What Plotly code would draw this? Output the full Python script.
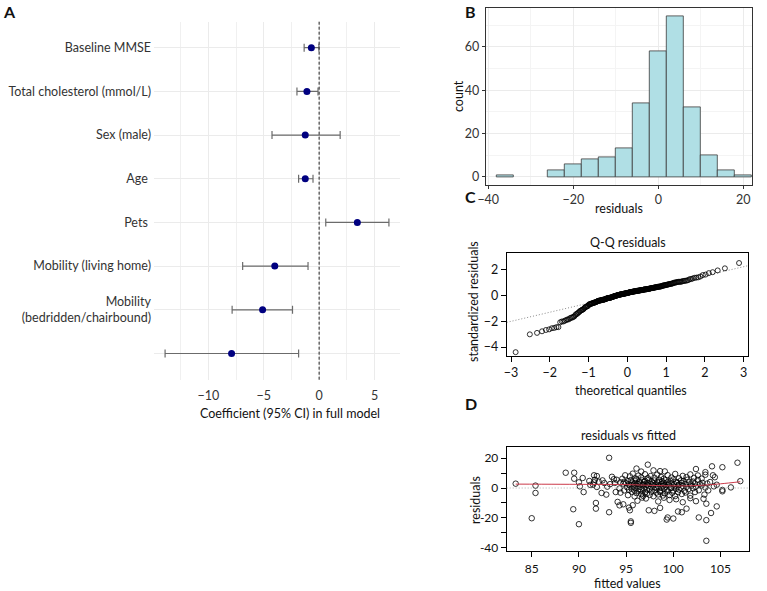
import numpy as np
import plotly.graph_objects as go
from statistics import NormalDist

# ---------------- Panel A data ----------------
terms = ["Baseline MMSE", "Total cholesterol (mmol/L)", "Sex (male)", "Age\u00a0", "Pets\u00a0",
         "Mobility (living home)", "Mobility<br>(bedridden/chairbound)", ""]
coef = [-0.7, -1.1, -1.25, -1.25, 3.45, -4.0, -5.1, -7.9]
ci_low = [-1.35, -2.0, -4.25, -1.85, 0.6, -6.9, -7.85, -13.9]
ci_high = [-0.02, -0.1, 1.9, -0.55, 6.3, -1.0, -2.4, -1.85]

# ---------------- Residuals / fitted (panels B, C, D) ----------------
fitted_values = [
    103.5,
    90.0, 95.5, 95.5,
    85.0, 99.4, 99.3, 100.0, 102.7, 103.5,
    89.4, 93.2, 95.4, 97.4, 98.0, 100.5, 100.9, 104.0,
    91.8, 94.3, 94.7, 95.3, 95.7, 98.6, 101.4, 104.6, 91.8, 103.5,
    94.1, 96.2, 97.1, 98.4, 99.0, 99.6, 100.3, 101.0, 101.8, 102.4, 103.2, 96.7,
    90.5, 92.4, 92.9, 93.9, 94.4, 85.4,
    95.2, 95.6, 95.9, 96.1, 96.3, 96.6, 96.8, 97.0, 97.2, 97.5, 97.7, 97.9, 98.2, 98.4,
    98.6, 98.9, 99.1, 99.4, 99.6, 99.9, 100.2, 100.5, 100.9, 101.3, 101.8, 102.3, 103.3, 105.2,
    90.1, 91.9, 94.3, 94.8, 85.4,
    95.1, 95.3, 95.4, 95.6, 95.8, 95.9, 96.0, 96.2, 96.3, 96.5,
    96.6, 96.8, 96.9, 97.1, 97.2, 97.4, 97.5, 97.7, 97.8, 98.0,
    98.1, 98.3, 98.4, 98.6, 98.7, 98.9, 99.0, 99.2, 99.3, 99.5,
    99.7, 99.8, 100.0, 100.1, 100.3, 100.5, 100.6, 100.8, 101.0, 101.2,
    101.4, 101.6, 101.9, 102.1, 102.4, 102.7, 103.0, 103.4, 103.7, 104.3,
    105.2, 106.1, 93.0,
    90.0, 91.1, 91.2, 91.7, 91.6, 91.5, 92.5, 92.7, 93.7, 93.8, 94.0, 94.4, 94.7, 94.8, 83.3,
    95.0, 95.2, 95.3, 95.5, 95.6, 95.8, 95.9, 96.0, 96.1, 96.2,
    96.4, 96.5, 96.7, 96.8, 96.9, 97.0, 97.2, 97.3, 97.4, 97.6,
    97.7, 97.9, 98.0, 98.1, 98.3, 98.4, 98.5, 98.7, 98.8, 99.0,
    99.1, 99.2, 99.4, 99.5, 99.7, 99.8, 100.0, 100.1, 100.3, 100.4,
    100.6, 100.8, 100.9, 101.1, 101.3, 101.5, 101.7, 101.9, 102.1, 102.3,
    102.6, 102.8, 103.1, 103.6, 103.9, 104.6, 107.1, 93.3, 92.1,
    90.4, 91.6, 91.9, 94.6, 94.9,
    95.4, 95.7, 96.0, 96.3, 96.6, 97.0, 97.3, 97.6, 98.0, 98.3,
    98.7, 99.0, 99.4, 99.8, 100.2, 100.6, 101.0, 101.4, 101.8, 102.2,
    102.6, 103.0, 103.4, 104.2, 104.4, 93.5, 89.5,
    88.6, 89.5, 99.1, 98.6, 97.9, 102.4, 105.2, 96.1, 96.6, 103.4,
    97.3, 104.1, 106.8,
    93.2,
]
residual_values = [
    -35.3,
    -24.2, -22.3, -23.3,
    -20.2, -19.7, -21.1, -20.4, -19.7, -21.5,
    -14.2, -16.2, -14.9, -14.9, -15.3, -15.7, -16.2, -16.7,
    -13.8, -11.6, -10.9, -13.1, -11.5, -13.3, -13.8, -12.3, -10.0, -10.5,
    -9.3, -8.5, -7.0, -9.0, -6.5, -8.0, -7.5, -9.5, -6.8, -8.8, -7.2, -6.4,
    -2.7, -3.3, -4.4, -2.7, -3.1, -3.3,
    -4.8, -2.5, -5.6, -3.4, -2.2, -4.1, -5.2, -2.9, -3.8, -4.6, -2.4, -5.5, -3.1, -4.3,
    -2.6, -5.0, -3.6, -2.3, -4.7, -3.2, -5.4, -2.8, -4.0, -3.0, -5.1, -2.7, -4.4, -2.2,
    1.1, 0.7, -0.3, -1.6, 1.6,
    0.5, -1.2, 1.6, -0.4, 1.1, -1.7, 0.2, 1.4, -0.9, 0.7,
    -1.5, 1.8, -0.2, 0.9, -1.1, 1.3, -0.6, 0.3, 1.7, -1.4,
    0.6, -0.3, 1.2, -1.8, 0.1, 1.5, -0.7, 0.8, -1.3, 1.9,
    -0.1, 0.4, -1.6, 1.0, -0.5, 1.6, -1.0, 0.2, 1.3, -1.9,
    0.7, -0.8, 1.4, -0.2, 0.9, -1.5, 1.7, 0.3, -1.6, 1.1,
    -1.3, 0.4, 0.9,
    3.8, 4.7, 2.1, 5.5, 3.8, 2.2, 5.1, 3.3, 5.9, 3.4, 5.5, 3.8, 2.9, 4.2, 2.9,
    3.1, 4.6, 2.4, 5.3, 3.7, 2.2, 4.9, 3.3, 5.8, 2.7,
    4.2, 3.0, 5.1, 2.5, 3.9, 4.7, 2.1, 3.5, 5.6, 2.8,
    4.4, 3.2, 5.0, 2.3, 4.0, 3.6, 5.4, 2.6, 4.5, 3.4,
    2.1, 5.2, 3.8, 2.9, 4.8, 3.1, 5.7, 2.5, 4.1, 3.6,
    2.2, 5.0, 3.3, 4.6, 2.7, 5.5, 3.9, 2.4, 4.3, 3.0,
    5.4, 2.6, 3.4, 3.0, 4.0, 2.2, 4.6, 2.6, 4.2,
    6.7, 8.5, 8.0, 6.2, 8.5,
    7.8, 9.6, 6.4, 8.3, 7.1, 9.2, 6.6, 8.0, 6.9, 9.0,
    7.4, 6.2, 8.6, 7.0, 9.4, 6.5, 8.1, 7.3, 9.1, 6.8,
    8.4, 6.3, 8.9, 8.5, 7.2, 7.5, 6.2,
    10.2, 10.2, 11.1, 11.3, 11.8, 12.7, 13.9, 13.0, 11.0, 10.6,
    15.6, 14.5, 16.9,
    20.2,
]
assert len(fitted_values) == len(residual_values)

# smoother in residuals-vs-fitted panel
smooth_fitted = [83.3, 88.0, 92.0, 95.0, 97.0, 99.0, 101.0, 103.0, 105.0, 107.1]
smooth_resid = [2.6, 2.5, 2.4, 2.3, 1.9, 1.5, 1.4, 1.8, 2.8, 4.2]

W, H = 767, 591
def fx(p):
    return p / W
def fy(p):
    return 1 - p / H

FONT = "Lato"
fig = go.Figure()

# ---------------- Panel A ----------------
ypos = list(range(1, len(terms) + 1))
fig.add_trace(go.Scatter(
    x=coef, y=ypos, mode="markers",
    marker=dict(color="#000080", size=7),
    error_x=dict(type="data", symmetric=False,
                 array=[h - c for h, c in zip(ci_high, coef)],
                 arrayminus=[c - l for c, l in zip(coef, ci_low)],
                 color="#6b6b6b", thickness=1.2, width=4),
    xaxis="x", yaxis="y", showlegend=False, hoverinfo="skip"))

# ---------------- Panel B ----------------
fig.add_trace(go.Histogram(
    x=residual_values, autobinx=False, xbins=dict(start=-38, end=22, size=4),
    marker=dict(color="#B0DFE5", line=dict(color="#3a3a3a", width=0.8)),
    xaxis="x2", yaxis="y2", showlegend=False, hoverinfo="skip"))

# ---------------- Panel C ----------------
r = np.array(residual_values)
n = len(r)
sigma = np.sqrt(np.sum(r ** 2) / (n - 9))
std_res = np.sort(r / sigma)
nd = NormalDist()
theo = np.array([nd.inv_cdf((i + 0.5) / n) for i in range(n)])
q1, q3 = np.percentile(std_res, [25, 75])
z1, z3 = nd.inv_cdf(0.25), nd.inv_cdf(0.75)
slope = (q3 - q1) / (z3 - z1)
intercept = q1 - slope * z1

cx0, cx1 = theo.min(), theo.max()
cpad = 0.04 * (cx1 - cx0)
c_xrange = [cx0 - cpad, cx1 + cpad]
cy0, cy1 = std_res.min(), std_res.max()
cy1 = cy1 + 0.075 * (cy1 - cy0)
cypad = 0.04 * (cy1 - cy0)
c_yrange = [cy0 - cypad, cy1 + cypad]

fig.add_trace(go.Scatter(
    x=c_xrange, y=[intercept + slope * v for v in c_xrange], mode="lines",
    line=dict(color="#8a8a8a", width=1, dash="1px,2px"),
    xaxis="x3", yaxis="y3", showlegend=False, hoverinfo="skip"))
fig.add_trace(go.Scatter(
    x=theo, y=std_res, mode="markers",
    marker=dict(symbol="circle-open", size=5, color="black", line=dict(width=0.8)),
    xaxis="x3", yaxis="y3", showlegend=False, hoverinfo="skip"))

# ---------------- Panel D ----------------
fv = np.array(fitted_values)
dx0, dx1 = fv.min(), fv.max()
dpad = 0.04 * (dx1 - dx0)
d_xrange = [dx0 - dpad, dx1 + dpad]
dy0, dy1 = r.min(), r.max()
ext = 0.08 * (dy1 - dy0)
dy0, dy1 = dy0 - ext, dy1 + ext
dypad = 0.04 * (dy1 - dy0)
d_yrange = [dy0 - dypad, dy1 + dypad]

fig.add_trace(go.Scatter(
    x=fitted_values, y=residual_values, mode="markers",
    marker=dict(symbol="circle-open", size=5.5, color="black", line=dict(width=0.8)),
    xaxis="x4", yaxis="y4", showlegend=False, hoverinfo="skip"))
fig.add_trace(go.Scatter(
    x=smooth_fitted, y=smooth_resid, mode="lines", line=dict(color="#cc3a4a", width=1, shape="spline"),
    xaxis="x4", yaxis="y4", showlegend=False, hoverinfo="skip"))

tick_a = dict(family=FONT, size=12.5, color="#333333")
tick_r = dict(family=FONT, size=12.5, color="#111111")
tick_d = dict(family=FONT, size=12, color="#111111")

base_r_axis = dict(showline=True, mirror=True, linecolor="black", linewidth=1,
                   ticks="outside", ticklen=5, tickcolor="black", tickwidth=1,
                   showgrid=False, zeroline=False, automargin=False)

layout = dict(
    width=W, height=H, margin=dict(l=0, r=0, t=0, b=0, autoexpand=False),
    paper_bgcolor="white", plot_bgcolor="white", bargap=0, showlegend=False,
    font=dict(family=FONT, color="#111111"),
    xaxis=dict(domain=[fx(154), fx(400)], range=[-14.9, 7.3], anchor="y", automargin=False,
               tickvals=[-10, -5, 0, 5], showgrid=True, gridcolor="#EBEBEB", gridwidth=1,
               minor=dict(tickvals=[-12.5, -7.5, -2.5, 2.5], showgrid=True, gridcolor="#F0F0F0", gridwidth=0.8),
               zeroline=False, showline=False, ticks="", tickfont=tick_a, ticklabelstandoff=7),
    yaxis=dict(domain=[fy(379.7), fy(21.5)], range=[8.6, 0.4], anchor="x", automargin=False,
               tickvals=ypos, ticktext=terms, showgrid=True, gridcolor="#EBEBEB",
               zeroline=False, showline=False, ticks="", tickfont=tick_a, ticklabelstandoff=2),
    xaxis2=dict(domain=[fx(485.7), fx(752.3)], range=[-40.6, 22.1], anchor="y2", automargin=False,
                tickvals=[-40, -20, 0, 20], showgrid=True, gridcolor="#EBEBEB",
                minor=dict(tickvals=[-30, -10, 10], showgrid=True, gridcolor="#F4F4F4"),
                zeroline=False, showline=True, mirror=True, linecolor="#333333", linewidth=1,
                ticks="outside", ticklen=3, tickcolor="#333333", tickfont=tick_a),
    yaxis2=dict(domain=[fy(185), fy(8.3)], range=[-3.7, 77.7], anchor="x2", automargin=False,
                tickvals=[0, 20, 40, 60], showgrid=True, gridcolor="#EBEBEB",
                minor=dict(tickvals=[10, 30, 50, 70], showgrid=True, gridcolor="#F4F4F4"),
                zeroline=False, showline=True, mirror=True, linecolor="#333333", linewidth=1,
                ticks="outside", ticklen=3, tickcolor="#333333", tickfont=tick_a),
    xaxis3=dict(domain=[fx(506.7), fx(748)], range=c_xrange, anchor="y3",
                tickvals=[-3, -2, -1, 0, 1, 2, 3], tickfont=tick_r, **base_r_axis),
    yaxis3=dict(domain=[fy(356), fy(252.5)], range=c_yrange, anchor="x3",
                tickvals=[-4, -2, 0, 2], tickfont=tick_r, **base_r_axis),
    xaxis4=dict(domain=[fx(506.7), fx(749.3)], range=d_xrange, anchor="y4",
                tickvals=[85, 90, 95, 100, 105], tickfont=tick_d, ticklabelstandoff=1, **base_r_axis),
    yaxis4=dict(domain=[fy(551.3), fy(447.3)], range=d_yrange, anchor="x4",
                tickvals=[-40, -30, -20, -10, 0, 10, 20],
                ticktext=["-40", "", "-20", "", "0", "", "20"], tickfont=tick_d, **base_r_axis),
)
fig.update_layout(**layout)

# reference lines
fig.add_shape(type="line", xref="x", yref="y domain", x0=0, x1=0, y0=0, y1=1,
              line=dict(color="#222222", width=1, dash="3px,2px"))
fig.add_shape(type="line", xref="x4 domain", yref="y4", x0=0, x1=1, y0=0, y1=0,
              line=dict(color="#9a9a9a", width=0.8, dash="1px,2px"))

def ann(text, x, y, size=12.5, angle=0, bold=False, color="#111111"):
    fig.add_annotation(text=("<b>%s</b>" % text) if bold else text,
                       x=fx(x), y=fy(y), xref="paper", yref="paper",
                       xanchor="center", yanchor="middle", showarrow=False,
                       textangle=angle, font=dict(family=FONT, size=size, color=color))

# panel letters
ann("A", 9, 11.5, size=16, bold=True)
ann("B", 471, 12, size=16, bold=True)
ann("C", 471, 197, size=16, bold=True)
ann("D", 471, 403, size=16, bold=True)

# axis titles
ann("Coefficient (95% CI) in full model", 290, 413)
ann("count", 458, 96, angle=-90)
ann("residuals", 619, 208)
ann("Q-Q residuals", 628, 242)
ann("theoretical quantiles", 631, 391)
ann("standardized residuals", 473, 302, angle=-90)
ann("residuals vs fitted", 628, 435)
ann("fitted values", 627, 583)
ann("residuals", 475, 500, angle=-90)

fig.write_html("out.html", include_plotlyjs=True, config={"displayModeBar": False})
